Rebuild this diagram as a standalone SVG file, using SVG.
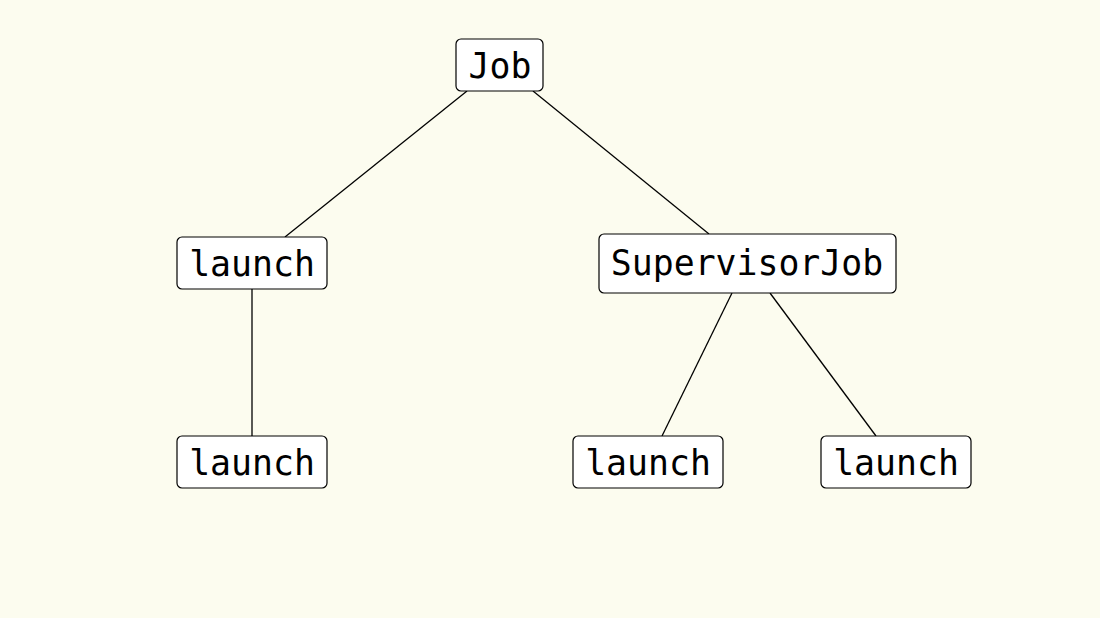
<svg xmlns="http://www.w3.org/2000/svg" width="1100" height="618" viewBox="0 0 1100 618">
<style>
.box{fill:#ffffff;stroke:#000000;stroke-width:1.2}
.lbl{font-family:"DejaVu Sans Mono","Liberation Mono",monospace;font-size:34.8px;fill:#000000;text-anchor:middle;dominant-baseline:central}
.edge{stroke:#000000;stroke-width:1.3;fill:none}
</style>
<rect width="1100" height="618" fill="#fcfcef"/>
<g id="connectors">
<line class="edge" x1="467" y1="91" x2="285" y2="237"/>
<line class="edge" x1="533" y1="91" x2="709" y2="234"/>
<line class="edge" x1="252" y1="289" x2="252" y2="436"/>
<line class="edge" x1="732" y1="293" x2="662" y2="436"/>
<line class="edge" x1="770" y1="293" x2="876" y2="436"/>
</g>
<g id="job"><rect class="box" x="456" y="39" width="87" height="52" rx="5"/><text class="lbl" x="500" y="66">Job</text></g>
<g id="launch1"><rect class="box" x="177" y="237" width="150" height="52" rx="5"/><text class="lbl" x="252" y="264">launch</text></g>
<g id="supervisorjob"><rect class="box" x="599" y="234" width="297" height="59" rx="5"/><text class="lbl" x="747" y="263">SupervisorJob</text></g>
<g id="launch2"><rect class="box" x="177" y="436" width="150" height="52" rx="5"/><text class="lbl" x="252" y="463">launch</text></g>
<g id="launch3"><rect class="box" x="573" y="436" width="150" height="52" rx="5"/><text class="lbl" x="648" y="463">launch</text></g>
<g id="launch4"><rect class="box" x="821" y="436" width="150" height="52" rx="5"/><text class="lbl" x="896" y="463">launch</text></g>
</svg>
